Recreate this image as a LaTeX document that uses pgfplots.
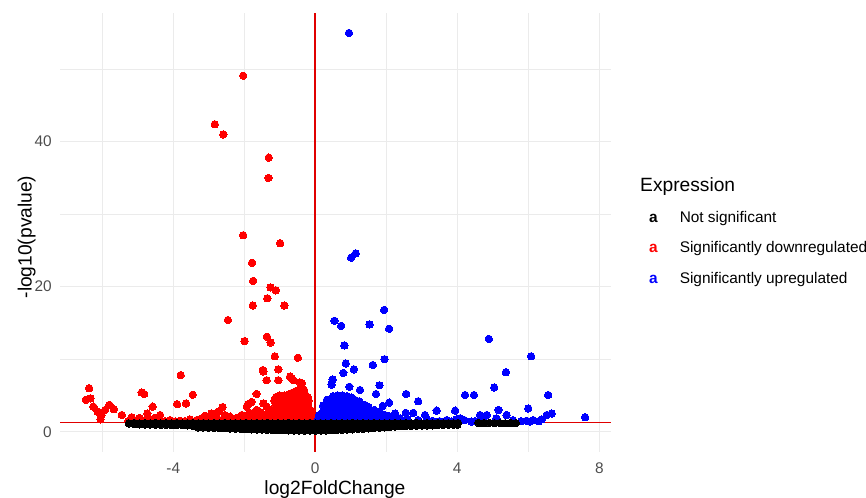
\documentclass[border=0pt]{standalone}
\usepackage{pgfplots}
\pgfplotsset{compat=1.18}
\usepackage{pgfplotstable}
\usepackage{fontspec}
\setmainfont{Liberation Sans}
\definecolor{grey30}{HTML}{4D4D4D}
\definecolor{gridc}{HTML}{EBEBEB}
\definecolor{vred}{HTML}{FF0000}
\definecolor{vblue}{HTML}{0000FF}
\definecolor{lred}{HTML}{E00000}
\newcommand\tickfont{\fontsize{15.4bp}{18bp}\selectfont}
\newcommand\titlefont{\fontsize{19.2bp}{22bp}\selectfont}

\pgfplotstableread{
x y
-2.03 49.1
-2.83 42.4
-2.59 41.0
-1.31 37.8
-1.32 35.0
-2.03 27.1
-0.99 26.0
-1.78 23.3
-1.75 20.8
-1.26 19.9
-1.11 19.5
-1.35 18.4
-1.76 17.4
-0.87 17.4
-2.46 15.4
-1.99 12.5
-1.36 13.1
-1.26 12.3
-1.14 10.4
-0.49 10.2
-1.48 8.5
-1.04 8.6
-1.46 8.3
-1.37 7.1
-1.04 7.1
-0.71 7.6
-0.66 7.4
-0.62 7.1
-0.43 6.8
-0.38 6.7
-1.65 5.2
-1.79 4.1
-1.89 3.8
-1.46 3.9
-1.93 3.45
-1.65 3.0
-1.37 3.45
-6.37 6.0
-6.46 4.4
-6.33 4.6
-6.25 3.45
-6.13 2.76
-6.02 2.3
-6.05 1.7
-5.92 3.0
-5.80 3.7
-5.67 3.1
-5.45 2.3
-5.17 2.0
-4.89 5.4
-4.82 5.2
-4.73 2.5
-4.58 3.45
-4.37 2.3
-3.79 7.8
-3.89 3.8
-3.64 3.9
-3.45 5.1
-2.92 2.5
-2.73 2.76
-2.61 3.4
-2.40 2.07
-2.07 2.3
-5.27 1.45
-5.17 1.6
-5.03 1.5
-4.89 1.55
-4.75 1.7
-4.66 1.45
-4.52 1.9
-4.37 1.5
-4.23 1.45
-4.09 1.6
-3.95 1.4
-3.81 1.5
-3.67 1.45
-3.53 1.7
-3.34 1.6
-3.20 1.85
-3.06 1.5
-2.92 1.7
-2.78 2.0
-2.64 1.6
-2.49 1.8
-2.35 1.5
-2.21 1.9
-2.07 1.6
-1.93 2.1
-1.79 1.7
-1.65 2.2
-1.51 1.9
-1.37 2.4
-1.23 2.0
-4.95 1.9
-4.45 1.6
-3.10 2.2
-2.85 1.45
-2.55 2.3
-2.30 1.45
-2.00 1.9
-1.85 2.6
-1.70 1.5
-1.55 2.7
-1.45 1.6
-1.30 1.7
-1.25 2.9
-1.40 2.2
-1.15 1.5
-1.13 2.2
-1.16 2.9
-1.12 3.6
-1.15 4.3
-1.10 4.8
-1.02 1.6
-1.00 2.3
-1.03 3.0
-1.01 3.7
-1.04 4.4
-1.00 5.0
-0.90 1.5
-0.88 2.2
-0.91 2.9
-0.89 3.6
-0.90 4.3
-0.87 5.0
-0.78 1.6
-0.76 2.3
-0.79 3.0
-0.77 3.7
-0.80 4.4
-0.76 5.1
-0.66 1.5
-0.64 2.2
-0.67 2.9
-0.65 3.6
-0.66 4.3
-0.63 5.0
-0.68 5.3
-0.54 1.6
-0.52 2.3
-0.55 3.0
-0.53 3.7
-0.56 4.4
-0.52 5.1
-0.55 5.6
-0.42 1.5
-0.40 2.2
-0.43 2.9
-0.41 3.6
-0.42 4.3
-0.40 5.0
-0.44 5.7
-0.41 6.1
-0.30 1.6
-0.28 2.3
-0.31 3.0
-0.29 3.7
-0.30 4.4
-0.28 5.1
-0.32 5.8
-0.20 1.5
-0.19 2.2
-0.21 2.9
-0.20 3.6
-0.19 4.3
-0.22 4.8
-0.10 1.5
-0.09 2.2
-0.11 2.9
-0.04 1.45
-0.05 1.9
}\downdata

\pgfplotstableread{
x y
0.95 55.0
1.14 24.6
1.01 24.0
1.94 16.8
0.54 15.3
0.73 14.6
1.53 14.8
2.08 14.2
0.82 11.9
0.86 9.4
1.62 9.2
1.95 10.0
1.09 8.6
0.79 8.1
0.49 7.2
0.46 6.5
0.96 6.2
1.26 5.75
1.71 5.2
1.81 6.4
2.08 4.0
1.90 3.55
2.56 5.2
2.90 4.2
2.55 2.6
2.76 2.6
3.09 2.3
3.42 2.9
3.94 2.9
3.14 1.7
3.70 1.6
3.98 1.7
4.22 5.06
4.47 5.06
5.04 6.1
5.37 8.2
4.89 12.8
6.08 10.4
6.56 5.06
6.00 3.2
5.16 3.0
4.64 2.3
4.83 2.3
5.39 2.3
5.10 1.85
5.57 1.6
6.05 1.4
6.14 1.6
6.38 1.7
6.52 2.3
6.66 2.5
7.60 2.0
2.25 2.5
2.39 1.85
4.40 1.4
4.08 1.85
3.30 1.5
3.50 1.45
2.90 1.6
2.60 1.7
2.45 1.5
3.85 1.4
4.50 1.45
4.75 1.5
5.80 1.45
5.95 1.5
6.30 1.45
4.20 1.6
0.05 1.5
0.10 1.6
0.11 2.3
0.22 1.5
0.21 2.2
0.23 2.9
0.22 3.6
0.35 1.6
0.34 2.3
0.36 3.0
0.35 3.7
0.33 4.4
0.48 1.5
0.47 2.2
0.49 2.9
0.48 3.6
0.46 4.3
0.50 4.9
0.61 1.6
0.60 2.3
0.62 3.0
0.61 3.7
0.59 4.4
0.63 5.0
0.74 1.5
0.73 2.2
0.75 2.9
0.74 3.6
0.72 4.3
0.76 5.0
0.87 1.6
0.86 2.3
0.88 3.0
0.87 3.7
0.85 4.4
0.89 4.9
1.00 1.5
0.99 2.2
1.01 2.9
1.00 3.6
0.98 4.3
1.02 4.7
1.13 1.6
1.12 2.3
1.14 3.0
1.13 3.7
1.11 4.4
1.26 1.5
1.25 2.2
1.27 2.9
1.26 3.6
1.24 4.2
1.39 1.6
1.38 2.3
1.40 3.0
1.39 3.7
1.52 1.5
1.51 2.2
1.53 2.9
1.50 3.4
1.65 1.6
1.64 2.3
1.66 3.0
1.78 1.5
1.77 2.2
1.79 2.7
1.91 1.6
1.90 2.4
2.04 1.5
2.05 2.2
2.17 1.6
2.16 2.1
2.30 1.5
}\updata

\pgfplotstableread{
x y
-5.25 1.15
-5.10 1.20
-4.95 1.12
-4.80 1.18
-4.65 1.15
-4.50 1.20
-4.35 1.14
-4.20 1.18
-4.05 1.15
-3.90 1.20
-3.75 1.13
-3.60 1.17
-3.45 1.20
-3.30 1.15
-3.15 1.18
-3.00 1.12
-2.85 1.19
-2.70 1.15
-2.55 1.20
-2.40 1.14
-2.25 1.18
-2.10 1.15
-1.95 1.20
-1.80 1.13
-1.65 1.18
-1.50 1.15
-1.35 1.20
-1.20 1.14
-1.05 1.18
-0.90 1.15
-0.75 1.20
-0.60 1.13
-0.45 1.18
-0.30 1.15
-0.15 1.20
0.00 1.14
0.15 1.18
0.30 1.15
0.45 1.20
0.60 1.13
0.75 1.18
0.90 1.15
1.05 1.20
1.20 1.14
1.35 1.18
1.50 1.15
1.65 1.20
1.80 1.13
1.95 1.18
2.10 1.15
2.25 1.20
2.40 1.14
2.55 1.18
2.70 1.15
2.85 1.20
3.00 1.13
3.15 1.18
3.30 1.15
3.45 1.20
3.60 1.14
3.75 1.18
3.90 1.15
4.02 1.20
4.60 1.20
4.75 1.17
4.90 1.22
5.05 1.18
5.20 1.20
5.35 1.16
5.50 1.20
5.65 1.18
-5.10 1.05
-4.95 1.00
-4.80 1.00
-4.65 0.98
-4.50 0.97
-4.35 0.95
-4.20 0.95
-4.05 0.92
-3.90 0.90
-3.75 0.90
-3.60 0.88
-3.45 0.80
-3.30 0.60
-3.15 0.58
-3.00 0.55
-2.85 0.52
-2.70 0.50
-2.55 0.47
-2.40 0.43
-2.25 0.40
-2.10 0.38
-1.95 0.35
-1.80 0.33
-1.65 0.30
-1.50 0.28
-1.35 0.25
-1.20 0.23
-1.05 0.20
-0.90 0.20
-0.75 0.18
-0.60 0.17
-0.45 0.16
-0.30 0.15
-0.15 0.15
0.00 0.15
0.15 0.16
0.30 0.18
0.45 0.20
0.60 0.23
0.75 0.26
0.90 0.30
1.05 0.33
1.20 0.37
1.35 0.40
1.50 0.45
1.65 0.50
1.80 0.55
1.95 0.60
2.10 0.65
2.25 0.70
2.40 0.75
2.55 0.78
2.70 0.80
2.85 0.82
3.00 0.85
3.15 0.87
3.30 0.88
3.45 0.90
3.60 0.92
3.75 0.95
3.90 0.95
4.00 0.97
-2.775 0.83
-2.625 0.82
-2.475 0.80
-2.325 0.79
-2.175 0.77
-2.025 0.76
-1.875 0.75
-1.725 0.74
-1.575 0.72
-1.425 0.71
-1.275 0.70
-1.125 0.69
-0.975 0.67
-0.825 0.67
-0.675 0.66
-0.525 0.66
-0.375 0.65
-0.225 0.65
-0.075 0.65
0.075 0.65
0.225 0.65
0.375 0.66
0.525 0.67
0.675 0.69
0.825 0.70
0.975 0.72
1.125 0.74
1.275 0.76
1.425 0.77
1.575 0.80
}\nsdata

\pgfplotstableread{
x y
0 -2.80
0 57.75
}\vline

\begin{document}
\begin{tikzpicture}
\useasboundingbox (0,0) rectangle (866bp,498bp);
\begin{axis}[
  at={(60bp,46bp)}, anchor=south west,
  scale only axis, width=551bp, height=439bp,
  xmin=-7.19, xmax=8.33, ymin=-2.80, ymax=57.75,
  xtick={-4,0,4,8}, xticklabels={-4,0,4,8},
  ytick={0,20,40}, yticklabels={0,20,40},
  minor xtick={-6,-2,2,6}, minor ytick={10,30,50},
  grid=both,
  major grid style={draw=gridc, line width=1.1bp},
  minor grid style={draw=gridc, line width=0.8bp},
  axis line style={draw=none},
  major tick length=0pt, minor tick length=0pt,
  tick style={draw=none},
  xticklabel style={font=\tickfont, text=grey30, anchor=base, yshift=-21.3bp},
  yticklabel style={font=\tickfont, text=grey30, anchor=east, inner sep=0pt, xshift=-8bp},
  xlabel={log2FoldChange}, ylabel={-log10(pvalue)},
  x label style={font=\titlefont, at={(axis description cs:0.499,-0.0964)}, anchor=base},
  y label style={font=\titlefont, at={(axis description cs:-0.0514,0.4897)}, anchor=base},
  legend style={draw=none, fill=none, at={(1.0693,0.5472)}, anchor=north west,
    inner sep=0pt, outer sep=0pt, row sep=15.7bp, column sep=22bp,
    font=\tickfont,
    nodes={inner sep=0pt, text height=11bp, text depth=3.5bp}},
  legend cell align=left,
]
\addplot[color=vred, only marks, mark=*, mark size=3.7bp, mark options={draw=vred, fill=vred, line width=0pt}, forget plot] table[x=x,y=y] {\downdata};
\addplot[color=vblue, only marks, mark=*, mark size=3.7bp, mark options={draw=vblue, fill=vblue, line width=0pt}, forget plot] table[x=x,y=y] {\updata};
\addplot[color=black, only marks, mark=*, mark size=3.7bp, mark options={draw=black, fill=black, line width=0pt}, forget plot] table[x=x,y=y] {\nsdata};
\addplot[draw=lred, color=lred, line width=1.5bp, forget plot] coordinates {(-7.19,1.301) (8.33,1.301)};
\addplot[draw=lred, color=lred, line width=2bp, no marks, forget plot] table[x=x,y=y] {\vline};
\addlegendimage{legend image code/.code={\node[anchor=west, inner sep=0pt, text=black, font=\bfseries\tickfont] at (0,0) {a};}}
\addlegendentry{Not significant}
\addlegendimage{legend image code/.code={\node[anchor=west, inner sep=0pt, text=vred, font=\bfseries\tickfont] at (0,0) {a};}}
\addlegendentry{Significantly downregulated}
\addlegendimage{legend image code/.code={\node[anchor=west, inner sep=0pt, text=vblue, font=\bfseries\tickfont] at (0,0) {a};}}
\addlegendentry{Significantly upregulated}
\end{axis}
\node[anchor=base west, inner sep=0pt, font=\titlefont] at (640bp,306.1bp) {Expression};
\end{tikzpicture}
\end{document}
